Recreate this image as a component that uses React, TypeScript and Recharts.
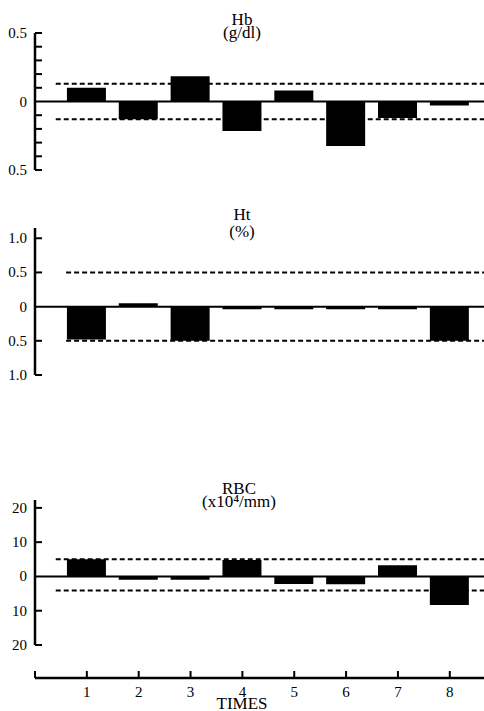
import { BarChart, Bar, XAxis, YAxis, ReferenceLine } from 'recharts'

// change from baseline at each sampling time
const times = [1, 2, 3, 4, 5, 6, 7, 8]
const hbChange = [0.1, -0.13, 0.185, -0.215, 0.08, -0.325, -0.12, -0.03]
const htChange = [-0.48, 0.05, -0.5, -0.04, -0.04, -0.04, -0.04, -0.5]
const rbcChange = [5, -1, -1, 4.8, -2.2, -2.3, 3.3, -8.3]

// dashed limits
const hbLimits = [0.13, -0.13]
const htLimits = [0.5, -0.5]
const rbcLimits = [5, -4.1]

const hbTicks = [0.5, 0.4, 0.3, 0.2, 0.1, 0, -0.1, -0.2, -0.3, -0.4, -0.5]
const hbLabelled = [0.5, 0, -0.5]
const htTicks = [1, 0.5, 0, -0.5, -1]
const rbcTicks = [20, 10, 0, -10, -20]
const timeTicks = [0, 1, 2, 3, 4, 5, 6, 7, 8]

const xDomain = [0, 8.66]
const FONT = "'Liberation Serif', 'DejaVu Serif', serif"

interface PanelProps {
  values: number[]
  limits: number[]
  limitFrom: number
  domain: number[]
  ticks: number[]
  labelled: number[]
  fmt: (v: number) => string
  top: number
  plotTop: number
  plotHeight: number
}

function Panel({ values, limits, limitFrom, domain, ticks, labelled, fmt, top, plotTop, plotHeight }: PanelProps) {
  const rows = times.map((t, i) => ({ t, v: values[i] }))

  const YTick = ({ x, y, payload }: any) => {
    const v = payload.value
    return (
      <g>
        {v !== 0 && <line x1={x} x2={x + 7} y1={y} y2={y} stroke="#000" strokeWidth={2} />}
        {labelled.includes(v) && (
          <text x={x - 8} y={y} dy={5} textAnchor="end" fontSize={15} fontFamily={FONT} fill="#000">
            {fmt(v)}
          </text>
        )}
      </g>
    )
  }

  return (
    <div style={{ position: 'absolute', left: 0, top }}>
      <BarChart
        width={484}
        height={plotTop + plotHeight + 14}
        data={rows}
        margin={{ top: plotTop, right: 0, bottom: 14, left: 0 }}
      >
        <XAxis dataKey="t" type="number" domain={xDomain} hide allowDataOverflow />
        <YAxis
          type="number"
          domain={domain}
          ticks={ticks}
          interval={0}
          width={35}
          tickSize={0}
          tickMargin={0}
          tickLine={false}
          axisLine={{ stroke: '#000', strokeWidth: 2.5 }}
          tick={YTick}
          allowDataOverflow
        />
        <Bar dataKey="v" fill="#000" barSize={39} isAnimationActive={false} />
        <ReferenceLine y={0} stroke="#000" strokeWidth={2} />
        {limits.map((l) => (
          <ReferenceLine
            key={l}
            segment={[{ x: limitFrom, y: l }, { x: xDomain[1], y: l }]}
            stroke="#000"
            strokeWidth={2}
            strokeDasharray="5 3"
          />
        ))}
      </BarChart>
    </div>
  )
}

// two-line panel title; baseline is the first line's baseline
const Title = ({ lines, baseline, lh, left = 0 }: { lines: string[]; baseline: number; lh: number; left?: number }) => (
  <div
    style={{
      position: 'absolute',
      left,
      width: 484,
      top: baseline - ((lh - 18.8) / 2 + 15.1),
      textAlign: 'center',
      fontFamily: FONT,
      fontSize: 17,
      lineHeight: `${lh}px`,
      color: '#000',
      whiteSpace: 'nowrap',
    }}
  >
    {lines[0]}
    <br />
    {lines[1]}
  </div>
)

const XTick = ({ x, y, payload }: any) => (
  <g>
    <line x1={x} x2={x} y1={y} y2={y - 7} stroke="#000" strokeWidth={2} />
    {payload.value > 0 && (
      <text x={x} y={y + 19} textAnchor="middle" fontSize={15} fontFamily={FONT} fill="#000">
        {payload.value}
      </text>
    )}
  </g>
)

export default function App() {
  const rows = times.map((t) => ({ t }))
  return (
    <div style={{ position: 'absolute', left: 0, top: 0, width: 484, height: 711, background: '#fff', overflow: 'hidden' }}>
      <Panel
        values={hbChange}
        limits={hbLimits}
        limitFrom={0.4}
        domain={[-0.5, 0.5]}
        ticks={hbTicks}
        labelled={hbLabelled}
        fmt={(v) => (v === 0 ? '0' : Math.abs(v).toFixed(1))}
        top={0}
        plotTop={33}
        plotHeight={137}
      />
      <Panel
        values={htChange}
        limits={htLimits}
        limitFrom={0.6}
        domain={[-1, 1.15]}
        ticks={htTicks}
        labelled={htTicks}
        fmt={(v) => (v === 0 ? '0' : Math.abs(v).toFixed(1))}
        top={200}
        plotTop={28}
        plotHeight={147}
      />
      <Panel
        values={rbcChange}
        limits={rbcLimits}
        limitFrom={0.4}
        domain={[-20, 22.3]}
        ticks={rbcTicks}
        labelled={rbcTicks}
        fmt={(v) => String(Math.abs(v))}
        top={470}
        plotTop={30}
        plotHeight={145}
      />

      <Title lines={['Hb', '(g/dl)']} baseline={25} lh={13} />
      <Title lines={['Ht', '(%)']} baseline={220} lh={17} />
      <Title lines={['RBC', '(x10⁴/mm)']} baseline={494} lh={13} left={-3} />

      <div style={{ position: 'absolute', left: 0, top: 648 }}>
        <BarChart width={484} height={60} data={rows} margin={{ top: 0, right: 0, bottom: 0, left: 35 }}>
          <XAxis
            dataKey="t"
            type="number"
            domain={xDomain}
            ticks={timeTicks}
            interval={0}
            height={30}
            tickSize={0}
            tickMargin={0}
            tickLine={false}
            axisLine={{ stroke: '#000', strokeWidth: 2.5 }}
            tick={XTick}
            allowDataOverflow
          />
          <YAxis hide domain={[0, 1]} />
        </BarChart>
      </div>
      <div
        style={{
          position: 'absolute',
          left: 212,
          width: 60,
          top: 709 - 12.2,
          textAlign: 'center',
          fontFamily: FONT,
          fontSize: 17,
          lineHeight: '13px',
        }}
      >
        TIMES
      </div>
    </div>
  )
}
